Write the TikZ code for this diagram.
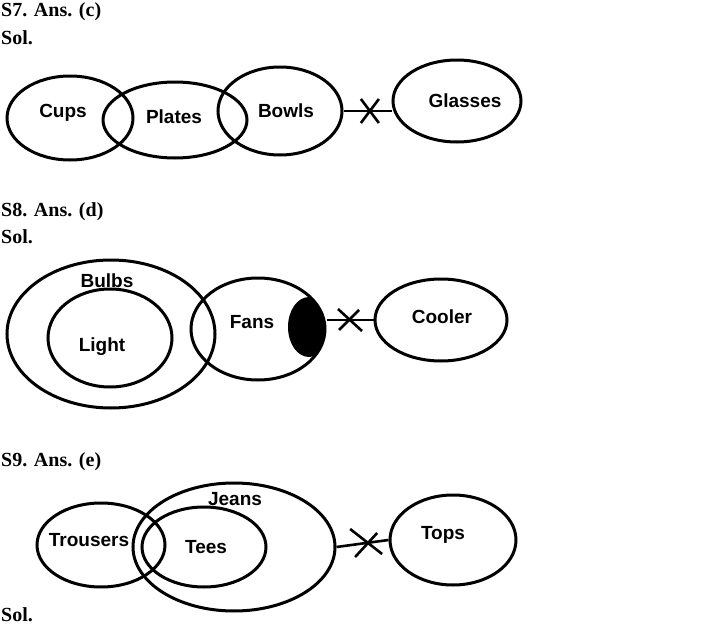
\documentclass[tikz,border=0pt]{standalone}
\usepackage{fontspec}
\setsansfont{Liberation Sans}
\newfontfamily\headfont{Liberation Serif}
\usetikzlibrary{calc,shapes.geometric}

\tikzset{
  set/.style={draw, ellipse, line width=3pt, inner sep=0pt},
  lbl/.style={font=\sffamily\bfseries\fontsize{19}{21}\selectfont},
  head/.style={anchor=west, inner sep=0pt, font=\headfont\bfseries\fontsize{20}{23}\selectfont},
  link/.style={line width=2.6pt},
  cross/.style={line width=2.6pt}
}

\begin{document}
\begin{tikzpicture}[x=1pt, y=-1pt]
            \useasboundingbox (0,0) rectangle (724,629);

            % S7: Cups, Plates, Bowls and Glasses
            \node[head] (h7) at (1,12) {S7. Ans. (c)};
            \node[head] (s7) at (1,38) {Sol.};
            \node[set, minimum width=126pt, minimum height=84pt] (cups) at (70,118) {};
            \node[set, minimum width=144pt, minimum height=76pt] (plates) at (175,120) {};
            \node[set, minimum width=124pt, minimum height=88pt] (bowls) at (280,111) {};
            \node[set, minimum width=128pt, minimum height=82pt] (glasses) at (457,101) {};
            \node[lbl] (tcups) at (63,113) {Cups};
            \node[lbl] (tplates) at (174,117) {Plates};
            \node[lbl] (tbowls) at (286,111) {Bowls};
            \node[lbl] (tglasses) at (465,101) {Glasses};

            \draw[link] (bowls.east) -- (bowls.east -| glasses.west);
            \coordinate (x7) at ($(bowls.east)!0.55!(bowls.east -| glasses.west)$);
            \draw[cross] ($(x7)+(-9,-12)$) -- ($(x7)+(9,12)$);
            \draw[cross] ($(x7)+(-9,12)$) -- ($(x7)+(9,-12)$);

            % S8: Bulbs, Light, Fans and Cooler
            \node[head] (h8) at (1,212) {S8. Ans. (d)};
            \node[head] (s8) at (1,237) {Sol.};
            \node[set, minimum width=208pt, minimum height=148pt] (bulbs) at (111,334) {};
            \node[set, minimum width=124pt, minimum height=98pt] (light) at (110,338) {};
            \node[set, minimum width=134pt, minimum height=102pt] (fans) at (258,329) {};
            \node[set, minimum width=132pt, minimum height=82pt] (cooler) at (441,320) {};
            \begin{scope}
              \clip (fans.center) ellipse [x radius=67pt, y radius=51pt];
              \fill (309,327) ellipse [x radius=21pt, y radius=30pt];
            \end{scope}
            \node[lbl] (tbulbs) at (107,281) {Bulbs};
            \node[lbl] (tlight) at (102,347) {Light};
            \node[lbl] (tfans) at (252,322) {Fans};
            \node[lbl] (tcooler) at (442,317) {Cooler};

            \draw[link] (fans.east |- cooler.west) -- (cooler.west);
            \coordinate (x8) at ($(fans.east |- cooler.west)!0.5!(cooler.west)$);
            \draw[cross] ($(x8)+(-12,-11)$) -- ($(x8)+(12,11)$);
            \draw[cross] ($(x8)+(-11,10)$) -- ($(x8)+(9,-10)$);

            % S9: Trousers, Jeans, Tees and Tops
            \node[head] (h9) at (1,462) {S9. Ans. (e)};
            \node[head] (s9) at (1,615) {Sol.};
            \node[set, minimum width=128pt, minimum height=84pt] (trousers) at (101,545) {};
            \node[set, minimum width=202pt, minimum height=128pt] (jeans) at (234,547) {};
            \node[set, minimum width=124pt, minimum height=80pt] (tees) at (204,547) {};
            \node[set, minimum width=126pt, minimum height=90pt] (tops) at (453,540) {};
            \node[lbl] (ttrousers) at (89,540) {Trousers};
            \node[lbl] (tjeans) at (235,499) {Jeans};
            \node[lbl] (ttees) at (206,547) {Tees};
            \node[lbl] (ttops) at (443,535) {Tops};

            \draw[link] (jeans.east) -- (tops.west);
            \coordinate (x9) at ($(jeans.east)!0.57!(tops.west)$);
            \draw[cross] ($(x9)+(-16,-14)$) -- ($(x9)+(16,11)$);
            \draw[cross] ($(x9)+(-11,14)$) -- ($(x9)+(11,-10)$);
\end{tikzpicture}
\end{document}
